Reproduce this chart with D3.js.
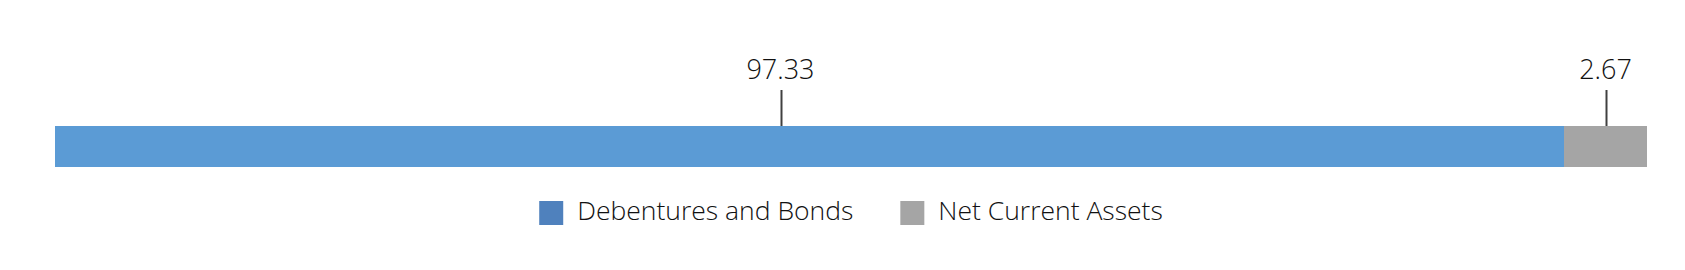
<!DOCTYPE html>
<html>
<head>
<meta charset="utf-8">
<script src="https://cdn.jsdelivr.net/npm/d3@7"></script>
<style>
	body { margin: 0; background: #fff; }
	svg text { font-family: "Open Sans", sans-serif; font-weight: 300; fill: #111; }
</style>
</head>
<body>
<svg id="chart" width="1685" height="270"></svg>
<script>

// data
const categories = ["Debentures and Bonds", "Net Current Assets"];
const values = [97.33, 2.67];
const labels = ["97.33", "2.67"];
const barColors = ["#5b9bd5", "#a5a5a5"];
const legendColors = ["#4f81bd", "#a5a5a5"];

const svg = d3.select("#chart");

const plotLeft = 55,
	  plotRight = 1647,
	  barTop = 126,
	  barHeight = 41;

// stack the values
let acc = 0;
const segments = values.map((v, i) => {
	const seg = {name: categories[i], start: acc, end: acc + v, label: labels[i], color: barColors[i]};
	acc += v;
	return seg;
});

// the chart's axis is not proportional: small segment gets its own stretch
const x = d3.scaleLinear()
	.domain([0, segments[0].end, segments[1].end])
	.range([-3, 1564, plotRight]);

svg.append("defs").append("clipPath")
	.attr("id", "plot-clip")
	.append("rect")
	.attr("x", plotLeft)
	.attr("y", 0)
	.attr("width", plotRight - plotLeft)
	.attr("height", 270);

svg.append("g")
	.attr("clip-path", "url(#plot-clip)")
	.selectAll("rect")
	.data(segments)
	.enter().append("rect")
		.attr("x", d => x(d.start))
		.attr("y", barTop)
		.attr("width", d => x(d.end) - x(d.start))
		.attr("height", barHeight)
		.style("fill", d => d.color);

// leader lines + labels
const mid = d => Math.round((x(d.start) + x(d.end)) / 2) + 0.5;

svg.selectAll("line.leader")
	.data(segments)
	.enter().append("line")
		.attr("class", "leader")
		.attr("x1", mid)
		.attr("x2", mid)
		.attr("y1", 90)
		.attr("y2", barTop)
		.style("stroke", "#404040")
		.style("stroke-width", 2);

svg.selectAll("text.value")
	.data(segments)
	.enter().append("text")
		.attr("class", "value")
		.attr("x", d => (x(d.start) + x(d.end)) / 2)
		.attr("y", 79)
		.attr("text-anchor", "middle")
		.style("font-size", "27px")
		.text(d => d.label);

// legend
const legend = svg.append("g");
const items = legend.selectAll("g")
	.data(categories)
	.enter().append("g");

items.append("rect")
	.attr("width", 24)
	.attr("height", 24)
	.attr("y", 201)
	.style("fill", (d, i) => legendColors[i]);

items.append("text")
	.attr("x", 38)
	.attr("y", 219.5)
	.style("font-size", "26.5px")
	.text(d => d);

let offset = 0;
const widths = [];
items.each(function() {
	widths.push(d3.select(this).select("text").node().getComputedTextLength() + 38);
});
const gap = 47;
const total = d3.sum(widths) + gap * (widths.length - 1);
const legendLeft = (plotLeft + plotRight) / 2 - total / 2;
items.attr("transform", (d, i) => {
	const t = "translate(" + (legendLeft + offset) + ",0)";
	offset += widths[i] + gap;
	return t;
});

</script>
</body>
</html>
